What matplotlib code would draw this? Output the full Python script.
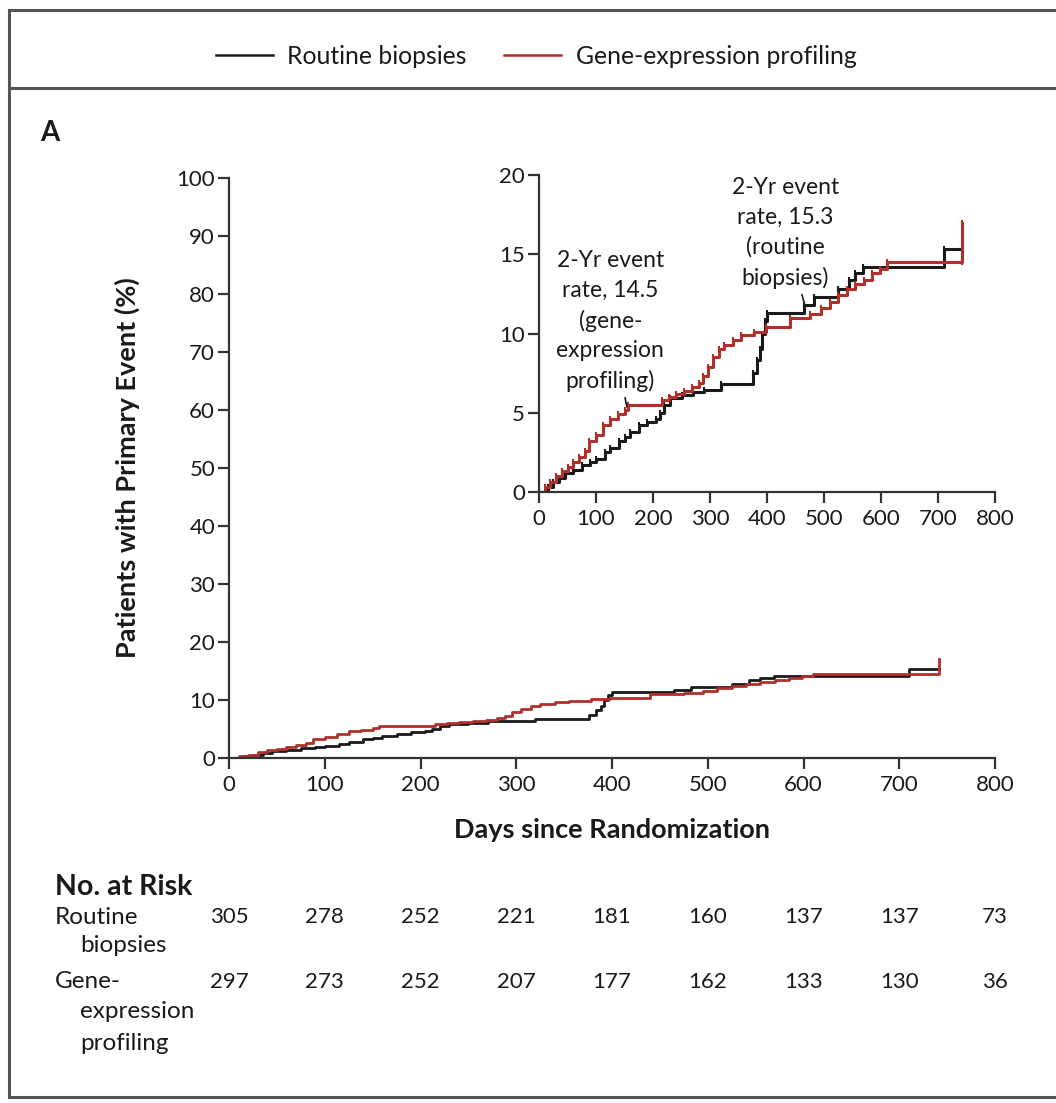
import matplotlib
matplotlib.use("Agg")
import matplotlib.pyplot as plt
from matplotlib.lines import Line2D

plt.rcParams['font.family'] = ['Lato', 'DejaVu Sans']

##############################################################################
# Data (cumulative % with primary event)
routine_days = [0, 15, 25, 35, 45, 60, 75, 90, 100, 115, 125, 140, 150, 160, 175,
                190, 205, 212, 220, 230, 250, 270, 290, 320, 376, 383, 388, 392,
                396, 400, 465, 483, 525, 543, 555, 569, 710, 742]
routine_pct = [0, 0.3, 0.6, 0.9, 1.2, 1.4, 1.7, 1.9, 2.1, 2.5, 2.8, 3.2, 3.5, 3.8,
               4.2, 4.4, 4.6, 5.0, 5.5, 5.9, 6.1, 6.3, 6.45, 6.8, 7.5, 8.3, 9.0,
               10.0, 10.8, 11.3, 11.8, 12.3, 12.8, 13.4, 13.8, 14.2, 15.3, 15.3]

gep_days = [0, 10, 20, 30, 40, 50, 60, 70, 80, 88, 100, 113, 125, 138, 150, 157,
            215, 228, 240, 255, 268, 280, 288, 296, 305, 315, 325, 340, 355, 378,
            398, 440, 475, 495, 510, 525, 540, 555, 570, 585, 598, 610, 742, 742]
gep_pct = [0, 0.3, 0.6, 1.0, 1.3, 1.6, 1.9, 2.2, 2.6, 3.2, 3.6, 4.2, 4.6, 4.9, 5.2,
           5.5, 5.8, 6.0, 6.2, 6.4, 6.6, 6.9, 7.3, 7.9, 8.5, 9.0, 9.3, 9.6, 9.9,
           10.1, 10.4, 11.0, 11.2, 11.6, 12.0, 12.4, 12.8, 13.1, 13.4, 13.8, 14.1,
           14.5, 14.5, 17.0]

risk_days = [0, 100, 200, 300, 400, 500, 600, 700, 800]
risk_routine = [305, 278, 252, 221, 181, 160, 137, 137, 73]
risk_gep = [297, 273, 252, 207, 177, 162, 133, 130, 36]

series_names = ['Routine biopsies', 'Gene-expression profiling']
BLACK = '#1a1a1a'
RED = '#b0302c'
TXT = '#1a1a1a'

W, H = 1056, 1103
fig = plt.figure(figsize=(W / 100, H / 100), dpi=100)


def fx(px):
    return px / W


def fy(py):
    return 1 - py / H


def style_axes(ax, fs=16):
    for side in ['top', 'right']:
        ax.spines[side].set_visible(False)
    for side in ['left', 'bottom']:
        ax.spines[side].set_linewidth(1.6)
        ax.spines[side].set_color('#333333')
    ax.tick_params(direction='out', length=8, width=1.6, color='#333333',
                   labelsize=fs, labelcolor=TXT)
    ax.tick_params(axis='y', pad=2)
    ax.tick_params(axis='x', pad=4)


##############################################################################
# Main plot
ax = fig.add_axes([fx(229), fy(758), fx(995) - fx(229), fy(178) - fy(758)])
ax.step(routine_days, routine_pct, where='post', color=BLACK, lw=2)
ax.step(gep_days, gep_pct, where='post', color=RED, lw=2)
ax.set_xlim(0, 800)
ax.set_ylim(0, 100)
ax.set_xticks(range(0, 801, 100))
ax.set_yticks(range(0, 101, 10))
style_axes(ax)
ax.set_xlabel('Days since Randomization', fontsize=19.5, fontweight='bold',
              labelpad=17, color=TXT)
ax.set_ylabel('Patients with Primary Event (%)', fontsize=19.5, fontweight='bold',
              labelpad=26, color=TXT)

##############################################################################
# Inset
axi = fig.add_axes([fx(539), fy(492), fx(995) - fx(539), fy(175) - fy(492)])
axi.step(routine_days, routine_pct, where='post', color=BLACK, lw=2.2,
         marker='|', markersize=4, markeredgewidth=1.5)
axi.step(gep_days, gep_pct, where='post', color=RED, lw=2.2,
         marker='|', markersize=4, markeredgewidth=1.5)
axi.set_xlim(0, 800)
axi.set_ylim(0, 20)
axi.set_xticks(range(0, 801, 100))
axi.set_yticks(range(0, 21, 5))
style_axes(axi)
axi.patch.set_alpha(0)

axi.annotate('2-Yr event\nrate, 14.5\n(gene-\nexpression\nprofiling)',
             xy=(155, 5.2), xytext=(125, 6.3), ha='center', va='bottom',
             fontsize=16.5, linespacing=1.5, color=TXT,
             arrowprops=dict(arrowstyle='-', color=TXT, lw=1.2))
axi.annotate('2-Yr event\nrate, 15.3\n(routine\nbiopsies)',
             xy=(467, 11.7), xytext=(432, 12.8), ha='center', va='bottom',
             fontsize=16.5, linespacing=1.5, color=TXT,
             arrowprops=dict(arrowstyle='-', color=TXT, lw=1.2))

##############################################################################
# Legend, panel label, frame
handles = [Line2D([], [], color=BLACK, lw=1.8), Line2D([], [], color=RED, lw=1.8)]
fig.legend(handles, series_names, loc='center', bbox_to_anchor=(fx(536), fy(56)),
           ncol=2, frameon=False, fontsize=17.8, handlelength=2.3,
           handletextpad=0.6, columnspacing=1.5, labelcolor=TXT)

fig.text(fx(40), fy(133), 'A', fontsize=20, fontweight='bold', va='center',
         ha='left', color=TXT)

frame_kw = dict(color='#555555', lw=2.2, transform=fig.transFigure, clip_on=False)
fig.add_artist(Line2D([fx(9), 1.0], [fy(10), fy(10)], **frame_kw))
fig.add_artist(Line2D([fx(9), 1.0], [fy(88), fy(88)], **frame_kw))
fig.add_artist(Line2D([fx(9), 1.0], [fy(1097), fy(1097)], **frame_kw))
fig.add_artist(Line2D([fx(9), fx(9)], [fy(10), fy(1097)], **frame_kw))

##############################################################################
# Number at risk table
fig.text(fx(55), fy(887), 'No. at Risk', fontsize=20.5, fontweight='bold',
         va='center', color=TXT)
row_labels = [('Routine', 55, 917), ('biopsies', 80, 945), ('Gene-', 55, 982),
              ('expression', 80, 1011), ('profiling', 80, 1043)]
for txt, px, py in row_labels:
    fig.text(fx(px), fy(py), txt, fontsize=17.5, va='center', color=TXT)

for d, n1, n2 in zip(risk_days, risk_routine, risk_gep):
    xf = fig.transFigure.inverted().transform(ax.transData.transform((d, 0)))[0]
    fig.text(xf, fy(917), str(n1), fontsize=16, ha='center', va='center', color=TXT)
    fig.text(xf, fy(982), str(n2), fontsize=16, ha='center', va='center', color=TXT)

fig.savefig('out.png', dpi=100, facecolor='white')
